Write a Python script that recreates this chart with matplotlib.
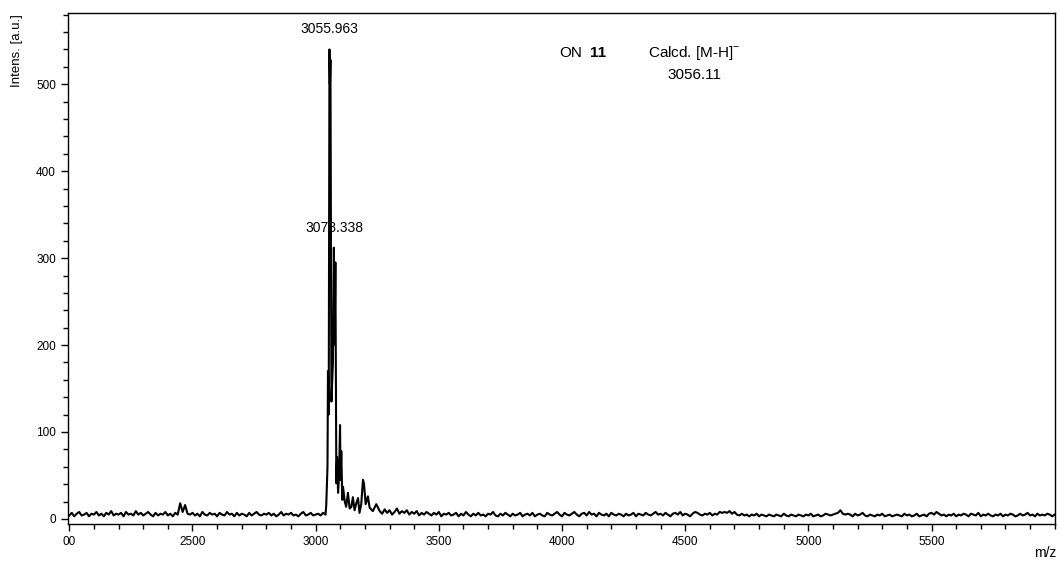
import numpy as np
import matplotlib
matplotlib.use("Agg")
import matplotlib.pyplot as plt
from matplotlib.ticker import MultipleLocator

plt.rcParams['font.family'] = ['Liberation Sans', 'DejaVu Sans']
plt.rcParams['mathtext.fontset'] = 'custom'
plt.rcParams['mathtext.rm'] = 'Liberation Sans'

# baseline before the peak, m/z 2000..3040 step 10
pre_mz = np.arange(2000, 3041, 10)
pre_int = [4, 7, 3, 6, 8, 4, 5, 7, 3, 6,
           5, 8, 4, 6, 3, 7, 5, 9, 4, 6,
           5, 7, 3, 8, 5, 6, 4, 9, 5, 7,
           4, 6, 8, 5, 3, 7, 4, 6, 5, 8,
           4, 6, 3, 7, 5, 18, 8, 16, 6, 5,
           7, 4, 6, 3, 8, 5, 4, 7, 5, 6,
           3, 7, 5, 4, 8, 5, 6, 3, 7, 4,
           6, 5, 3, 7, 4, 6, 8, 5, 4, 6,
           5, 7, 4, 6, 3, 5, 8, 4, 6, 5,
           7, 4, 5, 3, 6, 8, 4, 5, 7, 4,
           5, 6, 4, 7, 5]

# peak cluster
peak_mz = [3043, 3048, 3050, 3053, 3056, 3058, 3060, 3064, 3070, 3074, 3077,
           3080, 3084, 3087, 3091, 3095, 3099, 3101, 3104, 3108, 3111, 3118,
           3124, 3131, 3138, 3145, 3151, 3158, 3165, 3172, 3178, 3185, 3192,
           3196, 3203, 3212, 3219, 3232, 3246]
peak_int = [16, 60, 170, 120, 540, 500, 528, 135, 180, 312, 200,
            295, 41, 71, 30, 50, 108, 45, 78, 22, 37, 20,
            14, 30, 12, 14, 25, 10, 18, 24, 7, 17, 45,
            41, 17, 26, 13, 9, 17]

# baseline after the peak, m/z 3260..6000 step 10
post_mz = np.arange(3260, 6001, 10)
post_int = [9, 6, 11, 7, 10, 5, 8, 12, 6, 9,
            7, 10, 5, 8, 6, 9, 4, 7, 5, 8,
            6, 4, 7, 5, 8, 3, 6, 5, 7, 4,
            5, 7, 3, 6, 4, 8, 5, 3, 6, 4,
            7, 4, 5, 3, 6, 5, 8, 4, 3, 6,
            4, 7, 5, 3, 6, 4, 5, 7, 3, 5,
            6, 4, 7, 3, 5, 6, 4, 3, 7, 5,
            4, 6, 8, 5, 3, 7, 5, 4, 6, 8,
            5, 3, 6, 7, 4, 8, 5, 6, 3, 7,
            5, 4, 6, 3, 7, 5, 4, 6, 5, 3,
            6, 4, 5, 7, 3, 6, 5, 4, 7, 5,
            4, 6, 8, 5, 6, 4, 7, 5, 3, 6,
            7, 5, 8, 4, 6, 5, 3, 6, 8, 7,
            5, 4, 6, 5, 7, 4, 6, 5, 8, 7,
            8, 7, 9, 6, 8, 5, 4, 6, 4, 5,
            3, 5, 4, 6, 3, 5, 4, 3, 5, 4,
            3, 5, 4, 3, 6, 4, 3, 5, 4, 3,
            5, 4, 3, 5, 4, 6, 3, 4, 5, 3,
            4, 6, 5, 4, 5, 6, 7, 10, 6, 5,
            6, 5, 3, 6, 4, 5, 7, 4, 3, 5,
            4, 3, 5, 4, 6, 3, 4, 5, 3, 4,
            5, 4, 3, 6, 4, 5, 3, 4, 6, 3,
            4, 5, 3, 6, 7, 5, 8, 6, 4, 5,
            3, 5, 4, 6, 3, 5, 4, 6, 5, 3,
            6, 5, 4, 7, 3, 5, 4, 6, 4, 3,
            5, 4, 6, 3, 5, 4, 6, 5, 3, 4,
            6, 4, 5, 7, 4, 5, 3, 6, 4, 5,
            4, 6, 5, 3, 5]

x_ticks = [2000, 2500, 3000, 3500, 4000, 4500, 5000, 5500]
x_labels = ["00", "2500", "3000", "3500", "4000", "4500", "5000", "5500"]
y_ticks = [0, 100, 200, 300, 400, 500]

mz = np.concatenate([pre_mz, peak_mz, post_mz])
inten = np.concatenate([pre_int, peak_int, post_int])

fig = plt.figure(figsize=(10.6, 5.63), dpi=100)
ax = fig.add_axes([0.064, 0.069, 0.931, 0.908])
ax.plot(mz, inten, color='black', lw=1.5)

ax.set_xlim(1994, 6000)
ax.set_ylim(-6, 582)
ax.set_xticks(x_ticks)
ax.set_xticklabels(x_labels)
ax.set_yticks(y_ticks)
ax.xaxis.set_minor_locator(MultipleLocator(100))
ax.yaxis.set_minor_locator(MultipleLocator(20))
ax.tick_params(axis='both', which='major', labelsize=8.5, length=5, width=1, direction='out')
ax.tick_params(axis='both', which='minor', length=3.5, width=1, direction='out')
for s in ax.spines.values():
    s.set_linewidth(1)

ax.text(3056, 564, "3055.963", ha='center', va='center', fontsize=10)
ax.text(3077, 335, "3078.338", ha='center', va='center', fontsize=10)
ax.text(3989, 536, "ON", ha='left', va='center', fontsize=11)
ax.text(4115, 536, "11", ha='left', va='center', fontsize=11, fontweight='bold')
ax.text(4350, 536, "Calcd. [M-H]$^{-}$", ha='left', va='center', fontsize=11)
ax.text(4537, 511, "3056.11", ha='center', va='center', fontsize=11)

fig.text(0.016, 0.975, "Intens. [a.u.]", rotation=90, ha='center', va='top', fontsize=9.5)
fig.text(0.986, 0.018, "m/z", ha='center', va='center', fontsize=10)

fig.savefig("out.png", dpi=100)
